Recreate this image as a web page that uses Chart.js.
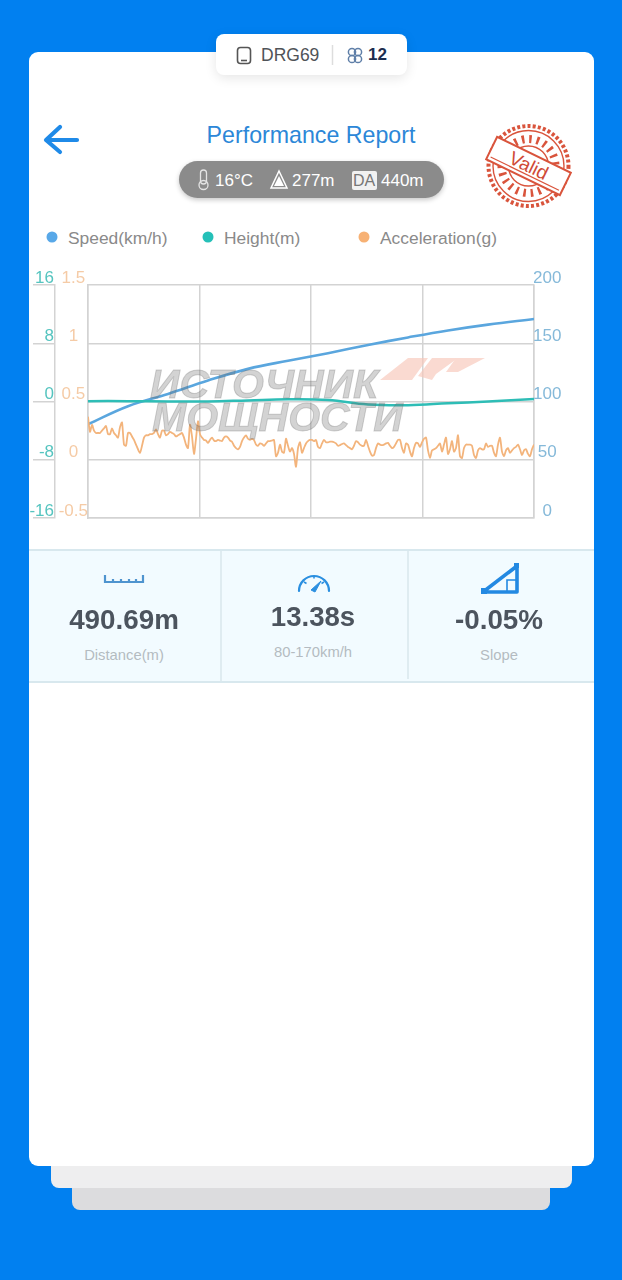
<!DOCTYPE html>
<html><head><meta charset="utf-8">
<style>
html,body{margin:0;padding:0;width:622px;height:1280px;overflow:hidden;background:#0180f0;font-family:"Liberation Sans",Arial,sans-serif}
.abs{position:absolute}
.t{position:absolute;white-space:nowrap;line-height:1}
.c{transform:translateX(-50%)}
svg{position:absolute;overflow:visible}
</style></head><body>
<div class="abs" style="left:72px;top:1180px;width:478px;height:30px;background:#dcdcde;border-radius:0 0 8px 8px"></div>
<div class="abs" style="left:51px;top:1160px;width:521px;height:28px;background:#eeeeef;border-radius:0 0 8px 8px"></div>
<div class="abs" style="left:29px;top:52px;width:565px;height:1114px;background:#fff;border-radius:9px"></div>
<div class="abs" style="left:216px;top:34px;width:191px;height:41px;background:#fff;border-radius:8px;box-shadow:0 3px 12px rgba(0,0,0,.10)"></div>
<svg style="left:0;top:0" width="622" height="120">
  <rect x="237.5" y="47.5" width="13" height="16" rx="3" fill="none" stroke="#555" stroke-width="1.6"/><line x1="241" y1="60.5" x2="247" y2="60.5" stroke="#555" stroke-width="1.6"/>
  <line x1="332.5" y1="45" x2="332.5" y2="65" stroke="#ddd" stroke-width="1.5"/>
  <g fill="none" stroke="#5f7fa8" stroke-width="1.5"><circle cx="352" cy="52" r="3.6"/><circle cx="358" cy="52" r="3.6"/><circle cx="352" cy="59" r="3.6"/><circle cx="358" cy="59" r="3.6"/></g>
</svg>
<div class="t" style="left:261px;top:47px;font-size:17.5px;color:#4f5358">DRG69</div>
<div class="t" style="left:368px;top:46px;font-size:17px;font-weight:bold;color:#1c2d4f">12</div>

<svg style="left:0;top:0" width="622" height="220">
  <path d="M77 140H47M60 127L46 140L60 152" fill="none" stroke="#1f8ae8" stroke-width="4.2" stroke-linecap="round" stroke-linejoin="round"/>
</svg>
<div class="t c" style="left:311px;top:124px;font-size:23.2px;color:#2c87d8">Performance Report</div>
<div class="abs" style="left:179px;top:161px;width:265px;height:37px;border-radius:19px;background:#8b8b8b;box-shadow:0 2px 5px rgba(0,0,0,.22)"></div>
<svg style="left:0;top:0" width="622" height="220">
  <rect x="200.5" y="170" width="6" height="14" rx="3" fill="none" stroke="#e4e4e4" stroke-width="1.3"/><circle cx="203.5" cy="185" r="4.5" fill="none" stroke="#e4e4e4" stroke-width="1.3"/>
  <path d="M279 171L287 188H271Z" fill="none" stroke="#fff" stroke-width="1.5"/><path d="M279 176L284 186H274Z" fill="#fff"/>
  <rect x="352" y="171" width="25" height="19" rx="2" fill="#f1f1f1"/>
</svg>
<div class="t" style="left:215px;top:172px;font-size:17px;color:#fff">16°C</div>
<div class="t" style="left:292px;top:172px;font-size:17px;color:#fff">277m</div>
<div class="t" style="left:353px;top:173px;font-size:16px;color:#777">DA</div>
<div class="t" style="left:381px;top:172px;font-size:17px;color:#fff">440m</div>

<svg style="left:0;top:0" width="622" height="250">
  <g transform="translate(528.5,166)" fill="none" stroke="#d9543c">
    <circle r="40" stroke-width="4" stroke-dasharray="3 2.2"/>
    <circle r="35.5" stroke-width="1.4"/>
    <circle r="20" stroke-width="1.4"/>
    <circle r="27" stroke-width="8" stroke-dasharray="2.5 5"/>
    <g transform="rotate(26)">
      <rect x="-41" y="-12.5" width="82" height="25" fill="#fff" stroke-width="2"/>
      <line x1="-38" y1="8.5" x2="38" y2="8.5" stroke-width="1.2"/>
      <text x="0" y="6" text-anchor="middle" font-size="19" fill="#cf4a36" stroke="none" font-family="Liberation Sans">Valid</text>
    </g>
  </g>
</svg>

<svg style="left:0;top:0" width="622" height="260">
  <circle cx="52" cy="237" r="5.5" fill="#58a8e8"/><circle cx="208" cy="237" r="5.5" fill="#25c0b8"/><circle cx="364" cy="237" r="5.5" fill="#f7b174"/>
</svg>
<div class="t" style="left:68px;top:230px;font-size:17.4px;color:#8a8a8a" id="l1"></div>
<div class="t" style="left:224px;top:230px;font-size:17.4px;color:#8a8a8a" id="l2"></div>
<div class="t" style="left:380px;top:230px;font-size:17.4px;color:#8a8a8a" id="l3"></div>

<canvas id="chart" class="abs" style="left:29px;top:265px" width="540" height="265"></canvas>

<svg style="left:0;top:0;pointer-events:none" width="622" height="530">
  <g fill="#f8c6b8" opacity=".65">
    <path d="M380 380L408 358H428L412 380Z"/><path d="M418 376L432 358H458L436 374L432 380Z"/><path d="M446 372L456 358H485L458 372Z"/>
  </g>
</svg>
<div class="t" style="left:150px;top:368px;font-size:41px;line-height:33px;font-weight:bold;font-style:italic;color:rgba(110,110,110,.3);-webkit-text-stroke:1px rgba(110,110,110,.3)">ИСТОЧНИК<br><span style="margin-left:2px">МОЩНОСТИ</span></div>

<div class="abs" style="left:29px;top:549px;width:565px;height:130px;background:#f2fbff;border-top:2px solid #d8e8ee;border-bottom:2px solid #d8e8ee"></div>
<div class="abs" style="left:220px;top:551px;width:1.5px;height:130px;background:#dfecf1"></div>
<div class="abs" style="left:407px;top:551px;width:1.5px;height:128px;background:#dfecf1"></div>
<svg style="left:0;top:0" width="622" height="640">
  <path d="M105 575V582H143V575M113 579V582M121 579V582M129 579V582M136 579V582" fill="none" stroke="#4f94cf" stroke-width="2.2"/>
  <path d="M299 591A15 15 0 1 1 329 591" fill="none" stroke="#2b8fe0" stroke-width="2.2" stroke-linecap="round"/>
  <path d="M304 582L306.5 583.5M314 575.5V578.5M324 582L321.5 583.5" fill="none" stroke="#2b8fe0" stroke-width="1.6"/>
  <path d="M311 590L321 581L315 592Z" fill="#2b8fe0" stroke="#2b8fe0"/>
  <path d="M483 592H517V566Z" fill="none" stroke="#2389e2" stroke-width="3.6" stroke-linejoin="round"/>
  <rect x="481" y="588" width="6" height="6" fill="#2389e2"/><rect x="514" y="563" width="5" height="5" fill="#2389e2"/>
  <path d="M507 591V580H516" fill="none" stroke="#2389e2" stroke-width="1.6"/>
</svg>
<div class="t c" style="left:124px;top:606px;font-size:27.8px;font-weight:bold;color:#4c545e">490.69m</div>
<div class="t c" style="left:313px;top:603px;font-size:27.6px;font-weight:bold;color:#4c545e">13.38s</div>
<div class="t c" style="left:499px;top:606px;font-size:27.8px;font-weight:bold;color:#4c545e">-0.05%</div>
<div class="t c" style="left:124px;top:648px;font-size:14.8px;color:#b4bbc1">Distance(m)</div>
<div class="t c" style="left:313px;top:645px;font-size:14.8px;color:#b4bbc1">80-170km/h</div>
<div class="t c" style="left:499px;top:648px;font-size:14.8px;color:#b4bbc1">Slope</div>

<script src="https://cdn.jsdelivr.net/npm/chart.js@4"></script>
<script>
const seriesNames = ["Speed(km/h)", "Height(m)", "Acceleration(g)"];
const trendSamples = [0,40,80,120,160,200,240,280,320,360,400,446];
const speedValues = [80.5,96,106.5,118,128,135,141.5,148.5,155,161,166,170.8];
const heightValues = [0.05,0.05,0,0,0.15,0.3,0.2,-0.4,-0.5,-0.25,0,0.34];
const accelValues = [
.37,.24,.30,.25,.23,.23,.23,.25,.27,.29,.22,.22,.27,.23,.21,.19,.28,.32,.13,.12,.23,.23,.20,.17,.13,.09,.06,.12,.19,.21,.21,.22,.22,.23,.26,.22,.19,.25,.25,.21,.22,.24,.23,.22,.20,.21,.22,.23,.19,.13,.10,.30,.20,.05,.18,.33,.22,.19,
.17,.165,.145,.17,.19,.165,.16,.17,.165,.16,.19,.20,.19,.165,.155,.12,.10,.09,.11,.16,.19,.21,.18,.17,.18,.17,.13,.12,.14,.135,.12,.14,.16,.16,.165,.17,.03,.06,.13,.07,.06,.18,.12,.07,.10,.05,-.06,.10,.15,.06,.10,.14,.16,.17,.17,.16,
.17,.11,.10,.14,.17,.15,.15,.155,.155,.15,.14,.12,.125,.135,.14,.125,.11,.10,.09,.12,.16,.15,.13,.12,.12,.17,.12,.07,.035,.04,.10,.14,.13,.125,.13,.14,.145,.12,.10,.11,.14,.17,.17,.10,.06,.14,.13,.07,.03,.10,.145,.14,.11,.15,.18,
.19,.08,.015,.08,.09,.10,.12,.14,.07,.13,.19,.05,.09,.16,.07,.10,.21,.03,.015,.10,.13,.13,.13,.12,.04,.015,.08,.10,.09,.09,.14,.11,.12,.12,.06,.03,.13,.19,.07,.03,.08,.10,.06,.08,.10,.11,.13,.09,.04,.08,.09,.05,.03,.09,.13];
const accelStep = 2;
const heightTicks = [16,8,0,-8,-16];
const accelTicks = [1.5,1,0.5,0,-0.5];
const speedTicks = [200,150,100,50,0];

document.getElementById('l1').textContent = seriesNames[0];
document.getElementById('l2').textContent = seriesNames[1];
document.getElementById('l3').textContent = seriesNames[2];

const pairs = (xs, ys) => ys.map((y, i) => ({x: xs[i], y}));
const accelXs = accelValues.map((_, i) => i * accelStep);
const gridColor = '#d3d3d3';
const font = {family: '"Liberation Sans"', size: 17};
const setTicks = list => axis => { axis.ticks = list.map(v => ({value: v})); };
const setWidth = w => axis => { axis.width = w; };
const plain = v => String(v);

new Chart(document.getElementById('chart'), {
  type: 'line',
  data: {datasets: [
    {label: seriesNames[2], yAxisID: 'yAccel', data: pairs(accelXs, accelValues), borderColor: '#f3b47c', borderWidth: 1.8, pointRadius: 0, tension: 0.25},
    {label: seriesNames[1], yAxisID: 'yHeight', data: pairs(trendSamples, heightValues), borderColor: '#2ebdb6', borderWidth: 2.5, pointRadius: 0, tension: 0.4},
    {label: seriesNames[0], yAxisID: 'ySpeed', data: pairs(trendSamples, speedValues), borderColor: '#5aa6de', borderWidth: 2.6, pointRadius: 0, tension: 0.4}
  ]},
  options: {
    responsive: false, animation: false, devicePixelRatio: 1,
    layout: {padding: {top: 20, bottom: 12, left: 0, right: 0}},
    plugins: {legend: {display: false}, tooltip: {enabled: false}},
    scales: {
      x: {type: 'linear', min: 0, max: 446, afterBuildTicks: axis => { axis.ticks = [0,111.5,223,334.5,446].map(v => ({value: v})); },
          ticks: {display: false}, grid: {color: gridColor, lineWidth: 1.5, drawTicks: false}, border: {color: gridColor, width: 1.5},
          afterFit: axis => { axis.height = 0; }},
      yHeight: {axis: 'y', position: 'left', weight: 1, min: -16, max: 16, afterBuildTicks: setTicks(heightTicks), afterFit: setWidth(26),
          ticks: {color: '#55c4bf', font, padding: -21, labelOffset: -7, autoSkip: false, callback: plain},
          grid: {drawOnChartArea: false, drawTicks: true, tickLength: 22, tickColor: gridColor, lineWidth: 1.5}, border: {color: gridColor, width: 1.5}},
      yAccel: {axis: 'y', position: 'left', weight: 0, min: -0.5, max: 1.5, afterBuildTicks: setTicks(accelTicks), afterFit: setWidth(33),
          ticks: {color: '#f5cba6', font, padding: 0, labelOffset: -7, crossAlign: 'center', autoSkip: false, callback: plain},
          grid: {drawOnChartArea: false, drawTicks: false}, border: {color: gridColor, width: 1.5}},
      ySpeed: {axis: 'y', position: 'right', min: 0, max: 200, afterBuildTicks: setTicks(speedTicks), afterFit: setWidth(35),
          ticks: {color: '#85b9d9', font, padding: -1, labelOffset: -7, crossAlign: 'center', autoSkip: false, callback: plain},
          grid: {color: gridColor, lineWidth: 1.5, drawTicks: false}, border: {color: gridColor, width: 1.5}}
    }
  }
});
</script>
</body></html>
